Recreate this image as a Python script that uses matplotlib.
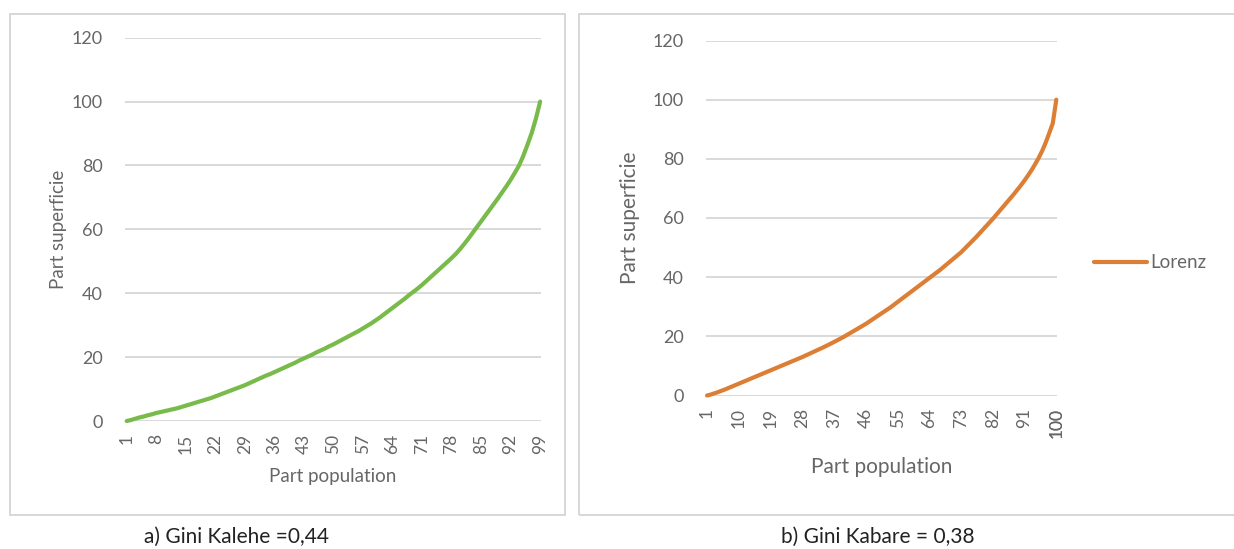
import matplotlib
matplotlib.use("Agg")
import matplotlib.pyplot as plt
from matplotlib.patches import Rectangle

plt.rcParams["font.family"] = ["Lato", "DejaVu Sans"]

# Cumulative share of land area (%) by cumulative population rank
kalehe_share = [
    0.0, 0.3, 0.7, 1.1, 1.4, 1.8, 2.1, 2.5,
    2.8, 3.1, 3.4, 3.7, 4.0, 4.4, 4.8,
    5.2, 5.6, 6.0, 6.4, 6.8, 7.2, 7.7,
    8.2, 8.7, 9.2, 9.7, 10.2, 10.7, 11.2,
    11.8, 12.4, 13.0, 13.6, 14.2, 14.7, 15.3,
    15.9, 16.5, 17.1, 17.7, 18.3, 19.0, 19.6,
    20.2, 20.8, 21.5, 22.1, 22.7, 23.4, 24.0,
    24.7, 25.4, 26.1, 26.8, 27.5, 28.2, 29.0,
    29.8, 30.6, 31.5, 32.4, 33.4, 34.4, 35.4,
    36.4, 37.4, 38.4, 39.5, 40.5, 41.5, 42.6,
    43.8, 45.0, 46.2, 47.4, 48.6, 49.8, 51.0,
    52.3, 53.8, 55.4, 57.1, 58.9, 60.7, 62.5,
    64.3, 66.1, 67.9, 69.7, 71.6, 73.5, 75.5,
    77.7, 80.0, 83.0, 86.5, 90.2, 94.7, 100.0,
]

kabare_share = [
    0.0, 0.3, 0.7, 1.1, 1.55, 2.0, 2.5, 3.0, 3.5, 4.0,
    4.5, 5.0, 5.5, 6.0, 6.5, 7.0, 7.5, 8.0, 8.5,
    9.0, 9.5, 10.0, 10.5, 11.0, 11.5, 12.0, 12.5, 13.0,
    13.55, 14.1, 14.65, 15.2, 15.75, 16.3, 16.9, 17.5, 18.1,
    18.7, 19.35, 20.0, 20.7, 21.4, 22.1, 22.8, 23.5, 24.2,
    25.0, 25.8, 26.6, 27.4, 28.2, 29.0, 29.8, 30.7, 31.6,
    32.5, 33.4, 34.3, 35.2, 36.1, 37.0, 37.9, 38.8, 39.7,
    40.6, 41.5, 42.4, 43.4, 44.4, 45.4, 46.4, 47.4, 48.4,
    49.6, 50.8, 52.0, 53.2, 54.5, 55.8, 57.1, 58.4, 59.7,
    61.1, 62.5, 63.9, 65.3, 66.7, 68.1, 69.6, 71.1, 72.7,
    74.4, 76.2, 78.2, 80.3, 82.7, 85.5, 88.7, 92.0, 100.0,
]

kalehe_pop = list(range(1, len(kalehe_share) + 1))
kabare_pop = list(range(1, len(kabare_share) + 1))

kalehe_ticks = list(range(1, 100, 7))          # 1, 8, ..., 99
kabare_ticks = list(range(1, 101, 9)) + [100]  # 1, 10, ..., 91, 100
y_ticks = [0, 20, 40, 60, 80, 100, 120]

captions = ["a) Gini Kalehe =0,44", "b) Gini Kabare = 0,38"]
series_name = "Lorenz"

GREEN = "#78bb4a"
ORANGE = "#dc7f35"
GRID = "#d9d9d9"
TEXT = "#666666"
BORDER = "#d4d4d4"

W, H = 1234, 549
fig = plt.figure(figsize=(W / 100, H / 100), dpi=100)
fig.patch.set_facecolor("white")


def fx(px):
    return px / W


def fy(py):
    return 1 - py / H


# Chart-area frames
for x0, x1 in [(10, 565), (579, 1245)]:
    fig.add_artist(Rectangle((fx(x0), fy(515)), fx(x1 - x0), (515 - 14) / H,
                             transform=fig.transFigure, fill=False,
                             edgecolor=BORDER, linewidth=1.3))


def style_axes(ax, ticks, xlim, tick_fs, lab_fs):
    ax.set_ylim(0, 120)
    ax.set_xlim(*xlim)
    ax.set_yticks(y_ticks)
    ax.set_xticks(ticks)
    ax.set_xticklabels([str(t) for t in ticks], rotation=90)
    ax.grid(axis="y", color=GRID, linewidth=1.4)
    ax.set_axisbelow(True)
    for s in ax.spines.values():
        s.set_visible(False)
    ax.tick_params(axis="both", length=0, colors=TEXT)
    ax.tick_params(axis="y", labelsize=13, pad=16)
    ax.tick_params(axis="x", labelsize=tick_fs, pad=9)
    ax.set_ylabel("Part superficie", fontsize=lab_fs, color=TEXT)
    ax.set_xlabel("Part population", fontsize=lab_fs, color=TEXT)


# Panel a) Kalehe
ax1 = fig.add_axes([fx(125), fy(421), fx(541 - 125), (421 - 37.7) / H])
ax1.plot(kalehe_pop, kalehe_share, color=GREEN, linewidth=3.0,
         solid_capstyle="round", clip_on=False)
style_axes(ax1, kalehe_ticks, (0.6, 99.2), 12.5, 13.5)
ax1.yaxis.labelpad = 3
ax1.xaxis.labelpad = 10

# Panel b) Kabare
ax2 = fig.add_axes([fx(706), fy(395.5), fx(1057 - 706), (395.5 - 40.5) / H])
ax2.plot(kabare_pop, kabare_share, color=ORANGE, linewidth=3.0,
         solid_capstyle="round", clip_on=False, label=series_name)
style_axes(ax2, kabare_ticks, (0.7, 100.2), 12.5, 15)
ax2.yaxis.labelpad = 9
ax2.xaxis.labelpad = 14

leg = ax2.legend(loc="center left", bbox_to_anchor=(fx(1094), fy(263)),
                 bbox_transform=fig.transFigure, frameon=False,
                 handlelength=2.8, handletextpad=0.2, borderpad=0,
                 borderaxespad=0, fontsize=13.5)
for t in leg.get_texts():
    t.set_color(TEXT)

# Captions under each panel
fig.text(fx(236), fy(537), captions[0], ha="center", va="center",
         fontsize=15, color="#222222")
fig.text(fx(878), fy(537), captions[1], ha="center", va="center",
         fontsize=15, color="#222222")

fig.savefig("out.png", dpi=100, facecolor="white")
